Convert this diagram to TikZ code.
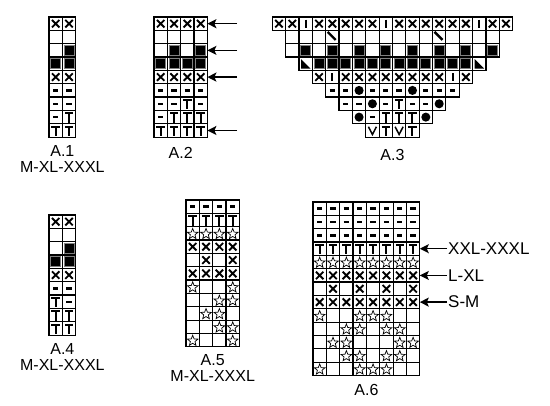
\documentclass[tikz,border=0pt]{standalone}
\usepackage{fontspec}
\setmainfont{Liberation Sans}
\usetikzlibrary{arrows.meta}

\tikzset{
  cellbox/.style={draw=black, line width=1.2pt},
  symline/.style={line width=1.9pt},
  starline/.style={line width=0.7pt, line join=miter},
  chartlabel/.style={font=\fontsize{16}{19}\selectfont, inner sep=0pt},
  sizelabel/.style={font=\fontsize{17}{20}\selectfont, anchor=west, inner sep=1pt},
  sizearrow/.style={line width=1.4pt, -{Stealth[length=9pt,width=9pt,inset=2pt]}}
}

% symbols, drawn in a unit cell with y pointing down
\newcommand\ksyme{}
\newcommand\ksymx{\draw[symline] (0.22,0.22)--(0.78,0.78) (0.22,0.78)--(0.78,0.22);}
\newcommand\ksymd{\draw[line width=2.4pt] (0.3,0.5)--(0.7,0.5);}
\newcommand\ksymt{\draw[line width=2pt] (0.18,0.22)--(0.82,0.22) (0.5,0.22)--(0.5,0.92);}
\newcommand\ksymi{\draw[line width=2pt] (0.5,0.2)--(0.5,0.8);}
\newcommand\ksymv{\draw[line width=1.5pt] (0.2,0.22)--(0.5,0.8)--(0.8,0.22);}
\newcommand\ksymb{\filldraw[fill=black, draw=gray, line width=0.9pt] (0.13,0.13) rectangle (0.87,0.87);}
\newcommand\ksyms{\draw[line width=2.4pt] (0.15,0.12)--(0.75,0.72);}
\newcommand\ksymg{\fill (0.15,0.15)--(0.15,0.87)--(0.87,0.87)--cycle;}
\newcommand\ksymc{\fill (0.5,0.5) circle (0.34);}
\newcommand\ksymr{\draw[starline,shift={(0.5,0.55)}] (-90:0.42)
  \foreach \a in {1,...,9}{ -- ({-90+36*\a}:{0.42-0.24*mod(\a,2)}) } -- cycle;}

% one row of cells: left x, top y, symbols
\newcommand\krow[3]{%
  \foreach \s [count=\kk from 0] in {#3}{%
    \begin{scope}[shift={({#1+\kk*13.35},{#2})},x=13.35pt,y=-13.35pt]
      \csname ksym\s\endcsname
      \draw[cellbox] (0,0) rectangle (1,1);
    \end{scope}}}

\begin{document}
\begin{tikzpicture}[x=1pt,y=-1pt]
\useasboundingbox (0,0) rectangle (550,406);

% A.1
\krow{49}{17}{x,x}
\krow{49}{17+1*13.35}{e,e}
\krow{49}{17+2*13.35}{e,b}
\krow{49}{17+3*13.35}{b,b}
\krow{49}{17+4*13.35}{x,x}
\krow{49}{17+5*13.35}{d,d}
\krow{49}{17+6*13.35}{d,d}
\krow{49}{17+7*13.35}{d,t}
\krow{49}{17+8*13.35}{t,t}
\node[chartlabel] (labA1) at (62.35,151) {A.1};
\node[chartlabel] (sizA1) at (62.35,167) {M-XL-XXXL};

% A.2
\krow{154}{17}{x,x,x,x}
\krow{154}{17+1*13.35}{e,e,e,e}
\krow{154}{17+2*13.35}{e,b,e,b}
\krow{154}{17+3*13.35}{b,b,b,b}
\krow{154}{17+4*13.35}{x,x,x,x}
\krow{154}{17+5*13.35}{d,d,d,d}
\krow{154}{17+6*13.35}{d,d,t,d}
\krow{154}{17+7*13.35}{d,t,t,t}
\krow{154}{17+8*13.35}{t,t,t,t}
\node[chartlabel] (labA2) at (180.7,153) {A.2};
\foreach \r in {1,3,5,9}{
  \coordinate (a2e\r) at (207.4,{17+(\r-0.5)*13.35});
  \coordinate (a2s\r) at (237,{17+(\r-0.5)*13.35});
  \draw[sizearrow] (a2s\r) -- (a2e\r);
}

% A.3
\krow{272.3}{17}{x,x,i,x,x,x,x,x,i,x,x,x,x,x,x,i,x,x}
\krow{272.3+1*13.35}{17+1*13.35}{e,e,e,s,e,e,e,e,e,e,e,s,e,e,e,e}
\krow{272.3+1*13.35}{17+2*13.35}{e,b,e,b,e,b,e,b,e,b,e,b,e,b,e,b}
\krow{272.3+2*13.35}{17+3*13.35}{g,b,b,b,b,b,b,b,b,b,b,b,b,g}
\krow{272.3+3*13.35}{17+4*13.35}{x,i,x,x,x,x,x,x,x,x,i,x}
\krow{272.3+4*13.35}{17+5*13.35}{d,d,c,d,d,d,c,d,d,d}
\krow{272.3+5*13.35}{17+6*13.35}{d,d,c,d,t,d,d,c}
\krow{272.3+6*13.35}{17+7*13.35}{c,d,t,t,t,c}
\krow{272.3+7*13.35}{17+8*13.35}{v,t,v,t}
\node[chartlabel] (labA3) at (392.45,155) {A.3};

% A.4
\krow{49}{215}{x,x}
\krow{49}{215+1*13.35}{e,e}
\krow{49}{215+2*13.35}{e,b}
\krow{49}{215+3*13.35}{b,b}
\krow{49}{215+4*13.35}{x,x}
\krow{49}{215+5*13.35}{d,d}
\krow{49}{215+6*13.35}{t,d}
\krow{49}{215+7*13.35}{t,t}
\krow{49}{215+8*13.35}{t,t}
\node[chartlabel] (labA4) at (62.35,349) {A.4};
\node[chartlabel] (sizA4) at (62.35,365) {M-XL-XXXL};

% A.5
\krow{186}{200}{d,d,d,d}
\krow{186}{200+1*13.35}{t,t,t,t}
\krow{186}{200+2*13.35}{r,r,r,r}
\krow{186}{200+3*13.35}{x,x,x,x}
\krow{186}{200+4*13.35}{e,x,e,x}
\krow{186}{200+5*13.35}{x,x,x,x}
\krow{186}{200+6*13.35}{r,e,e,r}
\krow{186}{200+7*13.35}{e,e,r,r}
\krow{186}{200+8*13.35}{e,r,r,e}
\krow{186}{200+9*13.35}{e,e,r,r}
\krow{186}{200+10*13.35}{r,e,e,r}
\node[chartlabel] (labA5) at (212.7,360) {A.5};
\node[chartlabel] (sizA5) at (212.7,376) {M-XL-XXXL};

% A.6
\krow{313}{202}{d,d,d,d,d,d,d,d}
\krow{313}{202+1*13.35}{d,d,d,d,d,d,d,d}
\krow{313}{202+2*13.35}{d,d,d,d,d,d,d,d}
\krow{313}{202+3*13.35}{t,t,t,t,t,t,t,t}
\krow{313}{202+4*13.35}{r,r,r,r,r,r,r,r}
\krow{313}{202+5*13.35}{x,x,x,x,x,x,x,x}
\krow{313}{202+6*13.35}{e,x,e,x,e,x,e,x}
\krow{313}{202+7*13.35}{x,x,x,x,x,x,x,x}
\krow{313}{202+8*13.35}{r,e,e,r,r,r,e,e}
\krow{313}{202+9*13.35}{e,e,r,r,e,r,r,e}
\krow{313}{202+10*13.35}{e,r,r,e,e,e,r,r}
\krow{313}{202+11*13.35}{e,e,r,r,e,r,r,e}
\krow{313}{202+12*13.35}{r,e,e,r,r,r,e,e}
\node[chartlabel] (labA6) at (366.4,390) {A.6};

% size arrows for A.6
\node[sizelabel] (xxl) at (447,{202+3.5*13.35}) {XXL-XXXL};
\node[sizelabel] (lxl) at (447,{202+5.5*13.35}) {L-XL};
\node[sizelabel] (sm) at (447,{202+7.5*13.35}) {S-M};
\coordinate (a6e4) at (419.8,{202+3.5*13.35});
\coordinate (a6e6) at (419.8,{202+5.5*13.35});
\coordinate (a6e8) at (419.8,{202+7.5*13.35});
\draw[sizearrow] (xxl.west) -- (a6e4);
\draw[sizearrow] (lxl.west) -- (a6e6);
\draw[sizearrow] (sm.west) -- (a6e8);
\end{tikzpicture}
\end{document}
